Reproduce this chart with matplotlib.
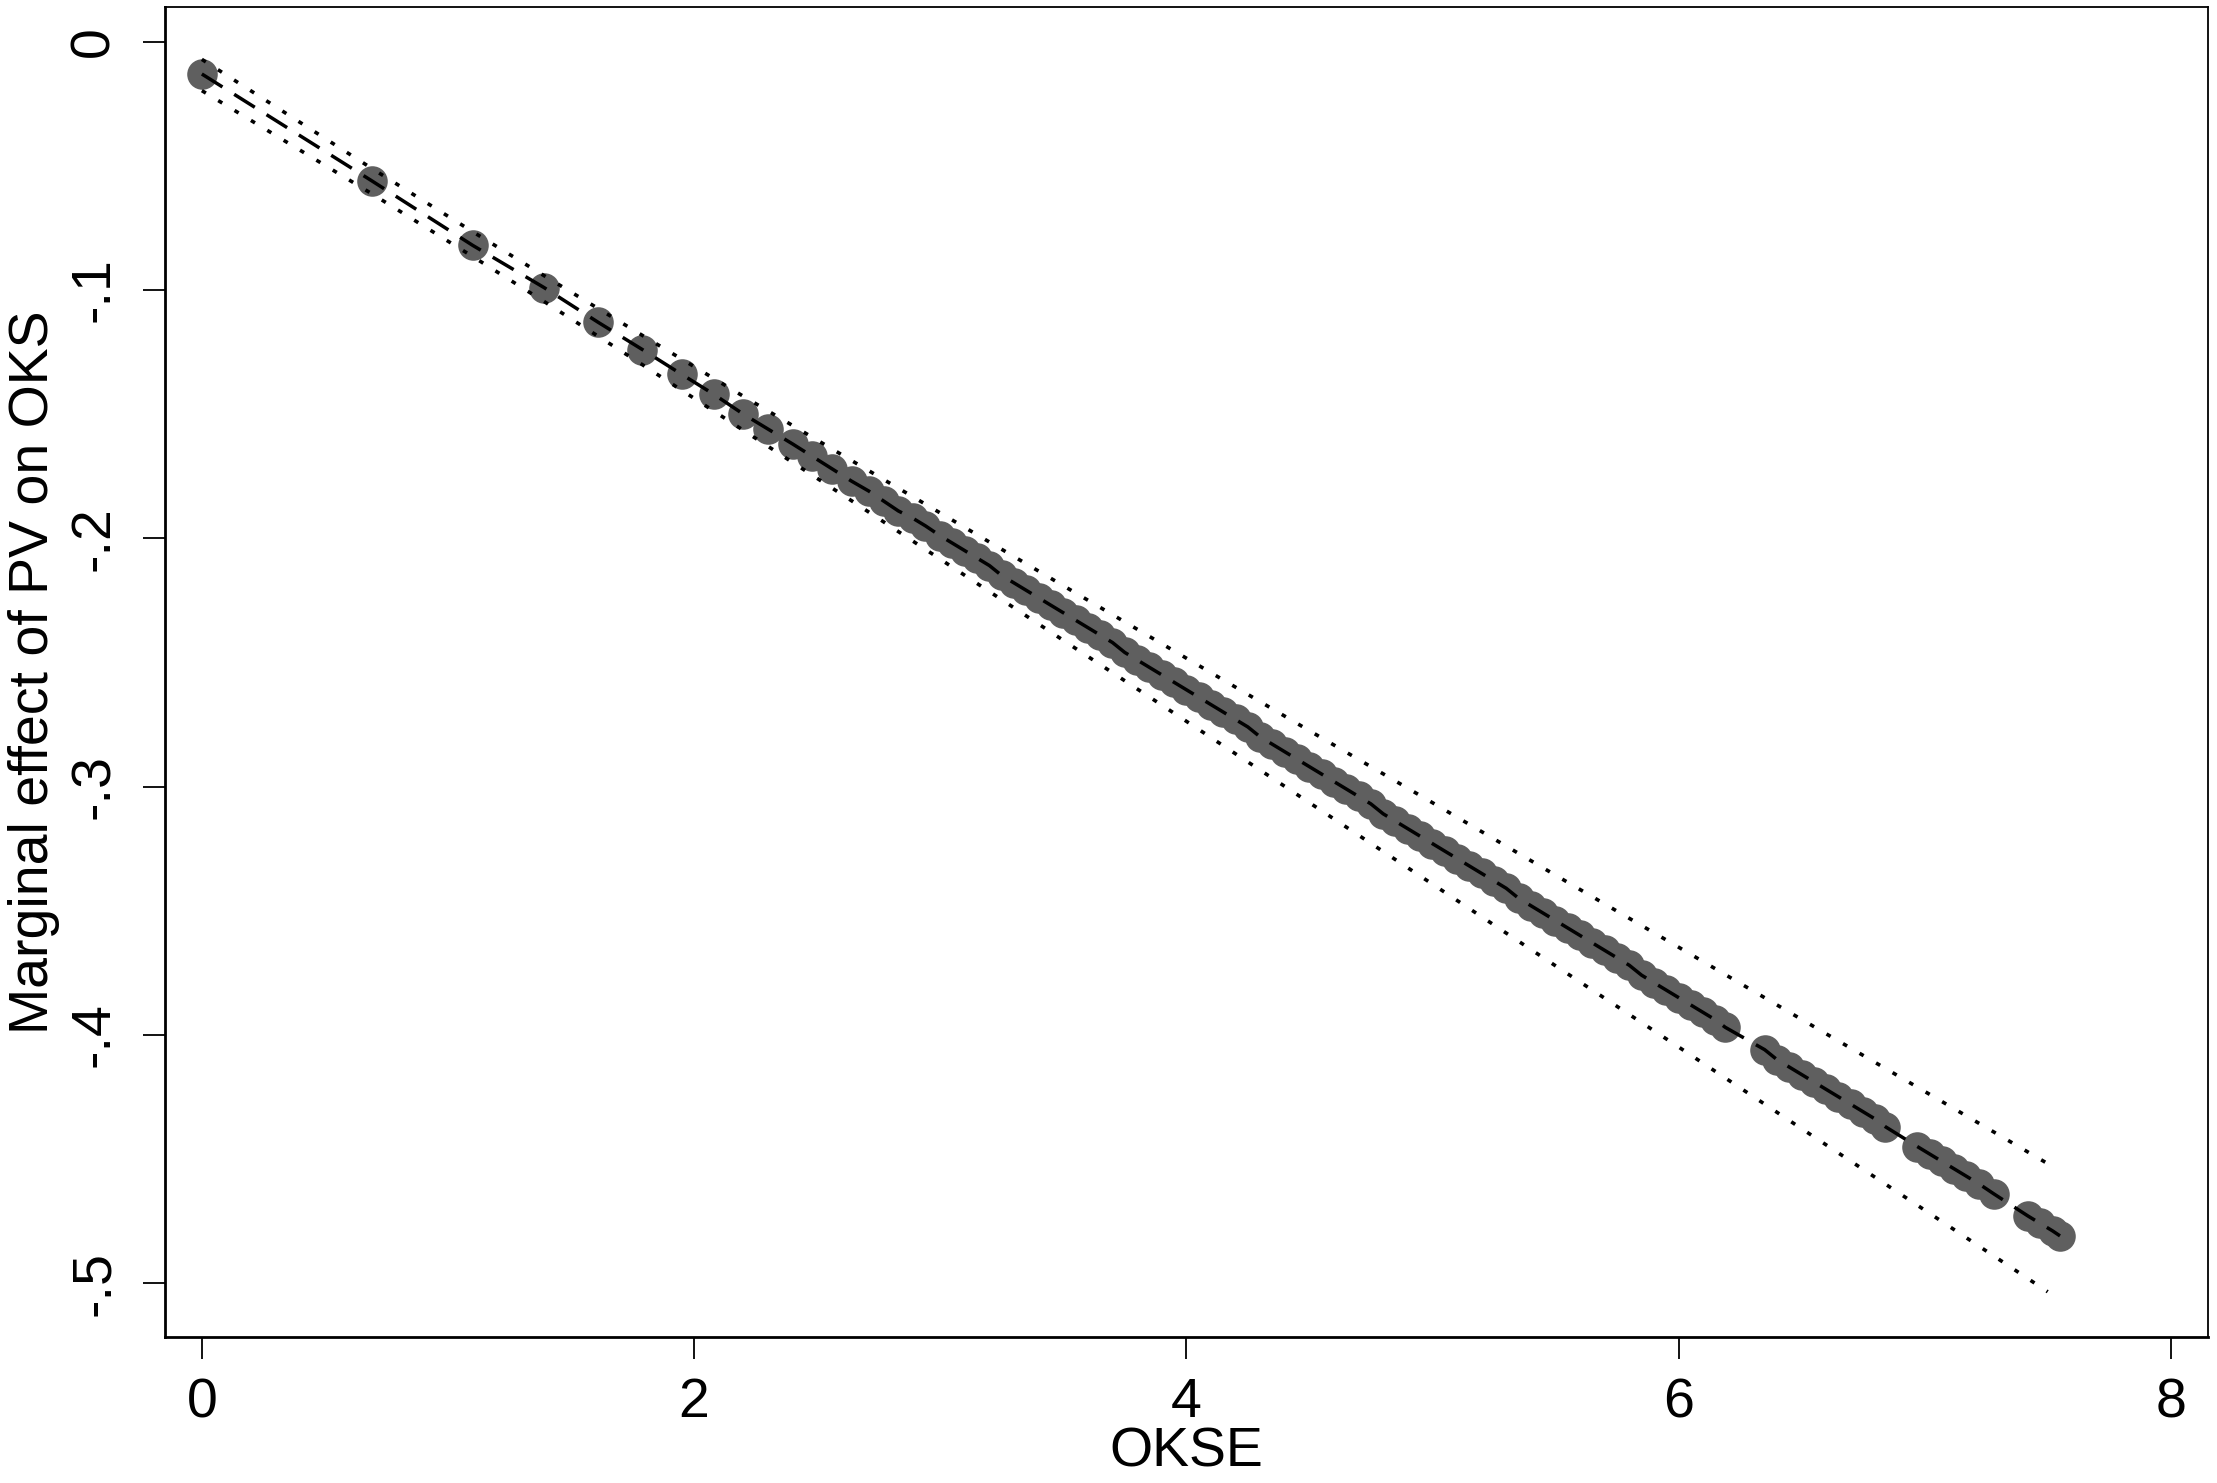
import matplotlib
matplotlib.use("Agg")
import matplotlib.pyplot as plt

plt.rcParams['font.family'] = ['Liberation Sans', 'DejaVu Sans']

# marginal effect of PV on OKS at observed OKSE values
okse = [0.00, 0.69, 1.10, 1.39, 1.61, 1.79, 1.95, 2.08, 2.20, 2.30,
        2.40, 2.48, 2.56, 2.64, 2.71, 2.77, 2.83, 2.89, 2.94, 3.00,
        3.05, 3.10, 3.15, 3.20, 3.25, 3.30, 3.35, 3.40, 3.45, 3.50,
        3.55, 3.60, 3.65, 3.70, 3.75, 3.80, 3.85, 3.90, 3.95, 4.00,
        4.05, 4.10, 4.15, 4.20, 4.25, 4.30, 4.35, 4.40, 4.45, 4.50,
        4.55, 4.60, 4.65, 4.70, 4.75, 4.80, 4.85, 4.90, 4.95, 5.00,
        5.05, 5.10, 5.15, 5.20, 5.25, 5.30, 5.35, 5.40, 5.45, 5.50,
        5.55, 5.60, 5.65, 5.70, 5.75, 5.80, 5.85, 5.90, 5.95, 6.00,
        6.05, 6.10, 6.15, 6.19,
        6.35, 6.40, 6.45, 6.50, 6.55, 6.60, 6.65, 6.70, 6.75, 6.80, 6.84,
        6.97, 7.02, 7.07, 7.12, 7.17, 7.22, 7.28,
        7.42, 7.47, 7.52, 7.55]
effect = [-0.013, -0.056, -0.082, -0.099, -0.113, -0.124, -0.134, -0.142, -0.150, -0.156,
          -0.162, -0.167, -0.172, -0.177, -0.181, -0.185, -0.189, -0.192, -0.195, -0.199,
          -0.202, -0.205, -0.208, -0.211, -0.215, -0.218, -0.221, -0.224, -0.227, -0.230,
          -0.233, -0.236, -0.239, -0.242, -0.246, -0.249, -0.252, -0.255, -0.258, -0.261,
          -0.264, -0.267, -0.270, -0.273, -0.276, -0.280, -0.283, -0.286, -0.289, -0.292,
          -0.295, -0.298, -0.301, -0.304, -0.307, -0.311, -0.314, -0.317, -0.320, -0.323,
          -0.326, -0.329, -0.332, -0.335, -0.338, -0.341, -0.345, -0.348, -0.351, -0.354,
          -0.357, -0.360, -0.363, -0.366, -0.369, -0.372, -0.376, -0.379, -0.382, -0.385,
          -0.388, -0.391, -0.394, -0.397,
          -0.406, -0.410, -0.413, -0.416, -0.419, -0.422, -0.425, -0.428, -0.431, -0.434, -0.437,
          -0.445, -0.448, -0.451, -0.454, -0.457, -0.460, -0.464,
          -0.473, -0.476, -0.479, -0.481]

# 95% confidence bounds
ci_x = [0.00, 0.69, 1.10, 1.39, 1.79, 2.20, 2.64, 3.00, 3.50,
        4.00, 4.50, 5.00, 5.50, 6.00, 6.50, 7.00, 7.50]
ci_upper = [-0.0071, -0.0510, -0.0765, -0.0942, -0.1183, -0.1428, -0.1687, -0.1898, -0.2191,
            -0.2483, -0.2775, -0.3065, -0.3357, -0.3647, -0.3938, -0.4228, -0.4519]
ci_lower = [-0.0197, -0.0612, -0.0865, -0.1046, -0.1301, -0.1565, -0.1849, -0.2084, -0.2411,
            -0.2737, -0.3065, -0.3393, -0.3722, -0.4049, -0.4378, -0.4706, -0.5035]

xticks = [0, 2, 4, 6, 8]
yticks = [0, -0.1, -0.2, -0.3, -0.4, -0.5]
ytick_labels = ["0", "-.1", "-.2", "-.3", "-.4", "-.5"]

fig = plt.figure(figsize=(22.17, 14.83), dpi=100)
ax = fig.add_axes([0.0744, 0.0985, 0.9215, 0.8968])

# markers, then the fitted line on top
ax.plot(okse, effect, linestyle='none', marker='o', markersize=22,
        color='#5f5f5f', markeredgewidth=0, zorder=2)
ax.plot(okse, effect, color='black', linewidth=2.5,
        linestyle=(0, (7, 4)), zorder=3)

# confidence interval lines
ax.plot(ci_x, ci_upper, color='black', linewidth=2.6,
        linestyle=(0, (1.3, 4.0)), zorder=3)
ax.plot(ci_x, ci_lower, color='black', linewidth=2.6,
        linestyle=(0, (1.3, 4.0)), zorder=3)

ax.set_xlim(-0.15, 8.151)
ax.set_ylim(-0.5217, 0.014)

ax.set_xticks(xticks)
ax.set_xticklabels([str(t) for t in xticks])
ax.set_yticks(yticks)
ax.set_yticklabels(ytick_labels, rotation=90, va='center')

ax.tick_params(axis='both', direction='out', length=16, width=1.3,
               labelsize=40, color='black')
ax.tick_params(axis='x', pad=13)
ax.tick_params(axis='y', pad=16)

ax.set_xlabel("OKSE", fontsize=40, labelpad=-2)
ax.set_ylabel("Marginal effect of PV on OKS", fontsize=40, labelpad=6)

for side in ['left', 'bottom']:
    ax.spines[side].set_linewidth(2.0)
for side in ['top', 'right']:
    ax.spines[side].set_linewidth(1.3)

plt.savefig("out.png", dpi=100)
